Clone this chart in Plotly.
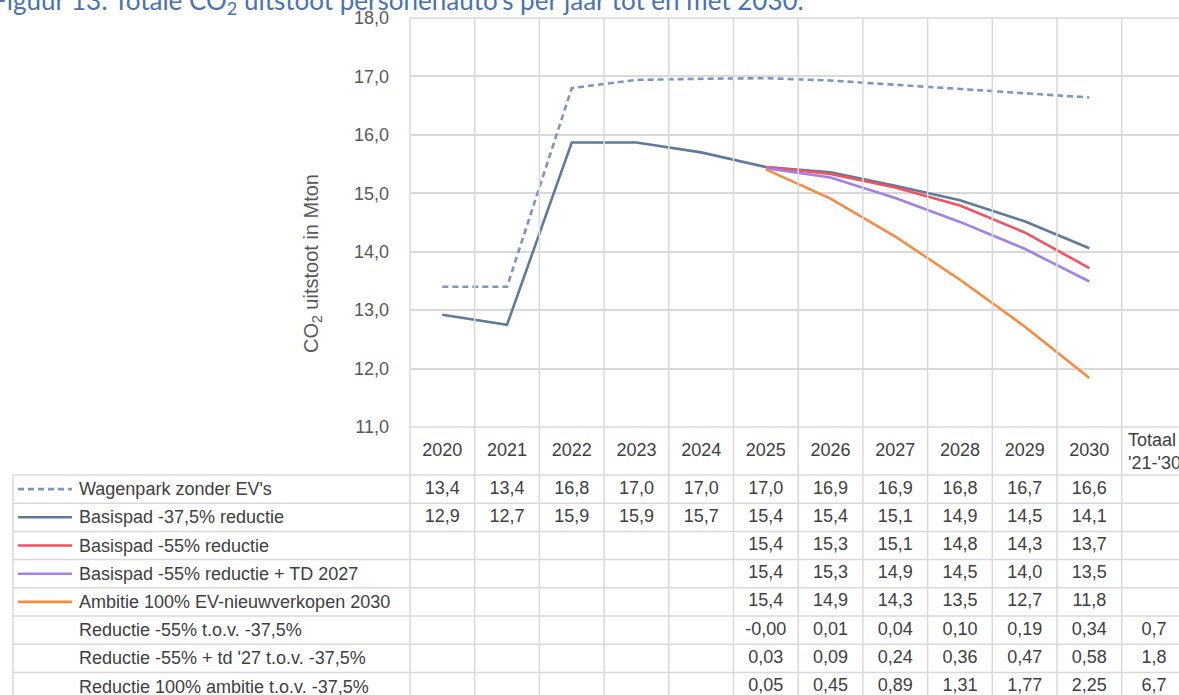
import plotly.graph_objects as go

# ---------------- data ----------------
years = ["2020", "2021", "2022", "2023", "2024", "2025", "2026", "2027", "2028", "2029", "2030"]
total_header = "Totaal<br>'21-'30"

series_names = [
    "Wagenpark zonder EV's",
    "Basispad -37,5% reductie",
    "Basispad -55% reductie",
    "Basispad -55% reductie + TD 2027",
    "Ambitie 100% EV-nieuwverkopen 2030",
]
reduction_names = [
    "Reductie -55% t.o.v. -37,5%",
    "Reductie -55% + td '27 t.o.v. -37,5%",
    "Reductie 100% ambitie t.o.v. -37,5%",
]

# line values (Mton)
wagenpark = [13.40, 13.40, 16.80, 16.94, 16.96, 16.97, 16.93, 16.86, 16.78, 16.71, 16.64]
basis_375 = [12.92, 12.75, 15.87, 15.87, 15.70, 15.45, 15.36, 15.13, 14.88, 14.52, 14.06]
basis_55 = [None, None, None, None, None, 15.45, 15.33, 15.10, 14.79, 14.33, 13.72]
basis_55_td = [None, None, None, None, None, 15.43, 15.27, 14.92, 14.51, 14.05, 13.49]
ambitie = [None, None, None, None, None, 15.41, 14.91, 14.26, 13.52, 12.72, 11.84]

# data-table values
tbl_wagenpark = [13.4, 13.4, 16.8, 17.0, 17.0, 17.0, 16.9, 16.9, 16.8, 16.7, 16.6]
tbl_basis_375 = [12.9, 12.7, 15.9, 15.9, 15.7, 15.4, 15.4, 15.1, 14.9, 14.5, 14.1]
tbl_basis_55 = [None, None, None, None, None, 15.4, 15.3, 15.1, 14.8, 14.3, 13.7]
tbl_basis_55_td = [None, None, None, None, None, 15.4, 15.3, 14.9, 14.5, 14.0, 13.5]
tbl_ambitie = [None, None, None, None, None, 15.4, 14.9, 14.3, 13.5, 12.7, 11.8]
red_55 = [None, None, None, None, None, -0.0, 0.01, 0.04, 0.10, 0.19, 0.34]
red_55_td = [None, None, None, None, None, 0.03, 0.09, 0.24, 0.36, 0.47, 0.58]
red_ambitie = [None, None, None, None, None, 0.05, 0.45, 0.89, 1.31, 1.77, 2.25]
red_totals = [0.7, 1.8, 6.7]

# ---------------- styling ----------------
W, H = 1179, 695
colors = ["#7D95C2", "#5E7B99", "#F5515F", "#A47FE6", "#F78A3F"]
dashes = ["6px,4px", "solid", "solid", "solid", "solid"]
grid_c = "#D9D9D9"
txt_c = "#404040"
tick_c = "#595959"
FONT = "Liberation Sans, Arial, sans-serif"
FS = 18

# reference layout in window pixels
PLOT_L, PLOT_T, PLOT_B = 410, 18, 427
COL_W = 64.7
HDR_B = 475
ROW_H = 28.2
TBL_L = 13


def px_x(p):
    return p / W


def px_y(p):
    return 1 - p / H


x_idx = list(range(len(years)))
x_max = -0.5 + (W - PLOT_L) / COL_W
y2_top = -0.5 - (HDR_B - PLOT_B) / ROW_H
y2_bot = -0.5 + (H - HDR_B) / ROW_H

fig = go.Figure()

lines = [wagenpark, basis_375, basis_55, basis_55_td, ambitie]
for name, vals, c, d in zip(series_names, lines, colors, dashes):
    fig.add_trace(go.Scatter(
        x=x_idx, y=vals, mode="lines", name=name,
        line=dict(color=c, width=2.6, dash=d),
        connectgaps=False, xaxis="x", yaxis="y", hoverinfo="skip",
    ))


def fmt(v, nd):
    if v is None:
        return ""
    return f"{v:.{nd}f}".replace(".", ",")


table_rows = [
    (tbl_wagenpark, 1), (tbl_basis_375, 1), (tbl_basis_55, 1),
    (tbl_basis_55_td, 1), (tbl_ambitie, 1),
    (red_55, 2), (red_55_td, 2), (red_ambitie, 2),
]
for r, (vals, nd) in enumerate(table_rows):
    xs = [i for i, v in enumerate(vals) if v is not None]
    txt = [fmt(vals[i], nd) for i in xs]
    if r >= 5:
        xs.append(len(years))
        txt.append(fmt(red_totals[r - 5], 1))
    fig.add_trace(go.Scatter(
        x=xs, y=[r] * len(xs), mode="text", text=txt,
        textfont=dict(family=FONT, size=FS, color=txt_c), cliponaxis=False,
        xaxis="x", yaxis="y2", hoverinfo="skip", showlegend=False,
    ))

# header row with years
hdr_y = -0.5 - (HDR_B - PLOT_B) / ROW_H / 2
fig.add_trace(go.Scatter(
    x=x_idx, y=[hdr_y] * len(years), mode="text", text=years,
    textfont=dict(family=FONT, size=FS, color=txt_c), cliponaxis=False,
    xaxis="x", yaxis="y2", hoverinfo="skip", showlegend=False,
))

shapes = []
# vertical column lines (plot + header + table)
for i in range(0, len(years) + 2):
    xp = px_x(PLOT_L + i * COL_W)
    if xp > 1:
        break
    shapes.append(dict(type="line", xref="paper", yref="paper", x0=xp, x1=xp,
                       y0=0, y1=px_y(PLOT_T), line=dict(color=grid_c, width=1.5)))
# plot top & bottom
for yy in (PLOT_T, PLOT_B):
    shapes.append(dict(type="line", xref="paper", yref="paper", x0=px_x(PLOT_L), x1=1,
                       y0=px_y(yy), y1=px_y(yy), line=dict(color=grid_c, width=1.5)))
# table horizontal lines
for j in range(len(table_rows)):
    shapes.append(dict(type="line", xref="paper", yref="y2", x0=px_x(TBL_L), x1=1,
                       y0=j - 0.5, y1=j - 0.5, line=dict(color=grid_c, width=1.5)))
# table left border
shapes.append(dict(type="line", xref="paper", yref="paper", x0=px_x(TBL_L), x1=px_x(TBL_L),
                   y0=0, y1=px_y(HDR_B), line=dict(color=grid_c, width=1.5)))
# legend keys
for r, (c, d) in enumerate(zip(colors, dashes)):
    shapes.append(dict(type="line", xref="paper", yref="y2", x0=px_x(18), x1=px_x(72),
                       y0=r, y1=r, line=dict(color=c, width=2.6, dash=d)))

annotations = []
for r, name in enumerate(series_names + reduction_names):
    annotations.append(dict(xref="paper", yref="y2", x=px_x(77), y=r, text=name,
                            showarrow=False, xanchor="left", yanchor="middle",
                            font=dict(family=FONT, size=FS, color=txt_c)))
annotations.append(dict(xref="x", yref="y2", x=len(years), y=hdr_y, text=total_header,
                        showarrow=False, xanchor="center", yanchor="middle", align="left",
                        font=dict(family=FONT, size=FS, color=txt_c)))
annotations.append(dict(xref="paper", yref="paper", x=px_x(313), y=px_y(264),
                        text="CO<sub>2</sub> uitstoot in Mton", textangle=-90,
                        showarrow=False, xanchor="center", yanchor="middle",
                        font=dict(family=FONT, size=20, color=tick_c)))
annotations.append(dict(xref="paper", yref="paper", x=px_x(-10), y=px_y(1.5),
                        text="Figuur 13: Totale CO<sub>2</sub> uitstoot personenauto's per jaar tot en met 2030.",
                        showarrow=False, xanchor="left", yanchor="middle",
                        font=dict(family="Lato, sans-serif", size=26, color="#4A72B0")))

fig.update_layout(
    width=W, height=H,
    margin=dict(l=0, r=0, t=0, b=0, autoexpand=False),
    paper_bgcolor="white", plot_bgcolor="white",
    showlegend=False,
    separators=",.",
    xaxis=dict(domain=[px_x(PLOT_L), 1], range=[-0.5, x_max], showgrid=False,
               showticklabels=False, zeroline=False, showline=False, ticks="",
               anchor="y", automargin=False),
    yaxis=dict(domain=[px_y(PLOT_B), px_y(PLOT_T)], range=[11, 18], dtick=1, tick0=11,
               tickformat=".1f", showgrid=True, gridcolor=grid_c, gridwidth=1.5,
               zeroline=False, showline=False, ticks="", ticklabelstandoff=20,
               tickfont=dict(family=FONT, size=FS, color=tick_c), anchor="x",
               automargin=False),
    yaxis2=dict(domain=[0, px_y(PLOT_B)], range=[y2_bot, y2_top], showgrid=False,
                showticklabels=False, zeroline=False, showline=False, ticks="",
                anchor="x", automargin=False),
    shapes=shapes,
    annotations=annotations,
)

# pin the figure to the top-left corner of the page (no default body margin)
pin_js = (
    "document.body.style.margin='0';"
    "var d=document.getElementById('{plot_id}');"
    "d.style.position='fixed';d.style.left='0px';d.style.top='0px';"
)

fig.write_html("out.html", post_script=pin_js, config={"displayModeBar": False})
